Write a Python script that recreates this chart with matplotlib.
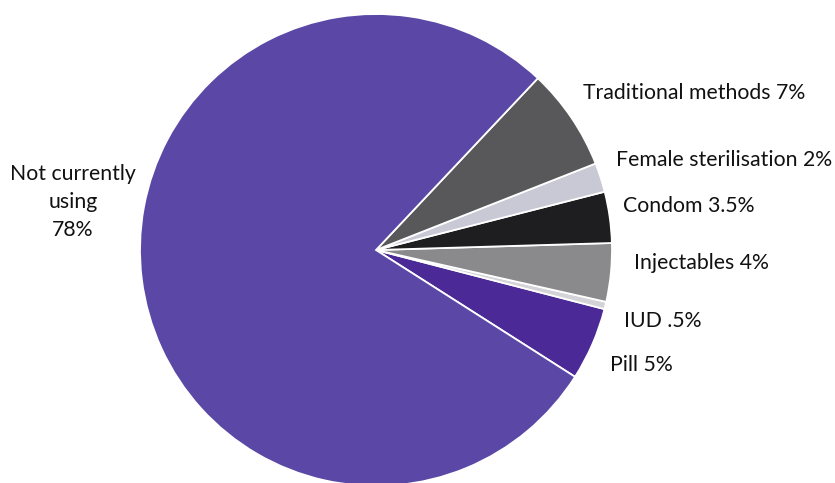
import matplotlib
matplotlib.use("Agg")
import matplotlib.pyplot as plt

plt.rcParams['font.family'] = ['Lato', 'DejaVu Sans']

# contraceptive use, counter-clockwise starting from the pill
methods = ['Pill', 'IUD', 'Injectables', 'Condom', 'Female sterilisation',
           'Traditional methods', 'Not currently using']
shares = [5, 0.5, 4, 3.5, 2, 7, 78]
labels = ['Pill 5%', 'IUD .5%', 'Injectables 4%', 'Condom 3.5%',
          'Female sterilisation 2%', 'Traditional methods 7%',
          'Not currently\nusing\n78%']

colors = ['#4b2a97', '#d4d4d8', '#8a8a8c', '#1e1e20', '#c9c9d6',
          '#58585b', '#5a47a6']

# label anchors in pixel space (x, y from top), left aligned except the big one
label_pos = [(610, 365), (624, 321), (634, 263), (623, 206), (616, 160),
             (583, 93), (73, 202)]

W, H = 835, 483
fig = plt.figure(figsize=(W / 100, H / 100), dpi=100)
ax = fig.add_axes([0, 0, 1, 1])

cx, cy, r = 376, 250, 236
ax.pie(shares, colors=colors, startangle=-32.5, counterclock=True,
       center=(cx, H - cy), radius=r, frame=True,
       wedgeprops=dict(edgecolor='white', linewidth=1.3))
ax.set_xlim(0, W)
ax.set_ylim(0, H)
ax.axis('off')

for lab, (x, y) in zip(labels, label_pos):
    if '\n' in lab:
        ax.text(x, H - y, lab, ha='center', va='center', fontsize=15.3,
                color='#111111', linespacing=1.5)
    else:
        ax.text(x, H - y, lab, ha='left', va='center', fontsize=15.3,
                color='#111111')

fig.savefig('out.png', dpi=100)
